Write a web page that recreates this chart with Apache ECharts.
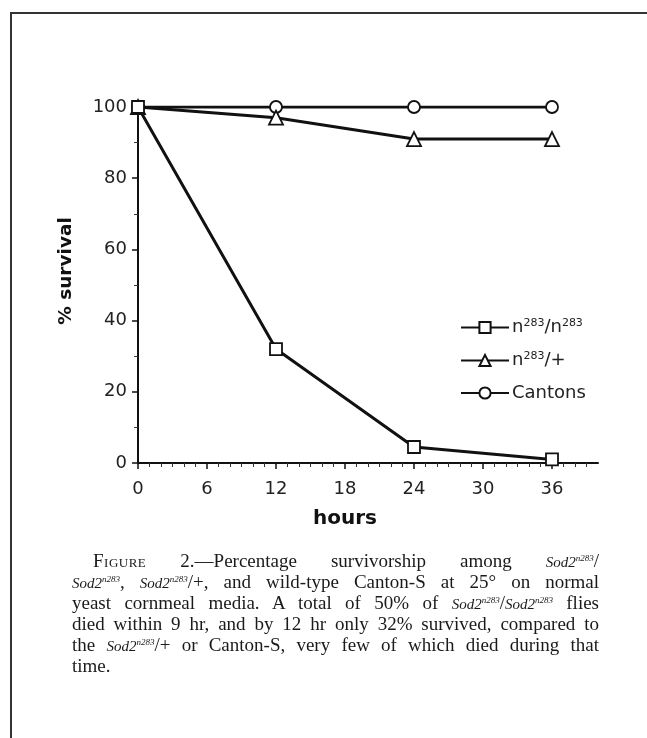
<!DOCTYPE html>
<html lang="en">
<head>
    <meta charset="UTF-8">
    <title>Survival</title>
    <script src="https://cdn.jsdelivr.net/npm/echarts@6/dist/echarts.min.js"></script>
    <style>
        html,body{margin:0;padding:0;width:647px;height:738px;background:#fff;overflow:hidden;}
        #frame{position:absolute;left:10px;top:12px;width:660px;height:760px;border-left:2px solid #333;border-top:2px solid #333;}
        #main{position:absolute;left:0;top:0;width:647px;height:738px;}
        #caption{position:absolute;left:72px;top:550px;width:527px;font-family:"Liberation Serif",serif;font-size:19px;line-height:21px;color:#1a1a1a;}
        #caption div{height:21px;text-align:justify;text-align-last:justify;white-space:nowrap;}
        #caption div.last{text-align-last:left;}
        #caption .sc{font-variant:small-caps;letter-spacing:0.5px;}
        #caption i{font-size:15px;}
        #caption sup{font-size:9px;line-height:0;}
    </style>
</head>
<body>
<div id="frame"></div>
<div id="main"></div>
<div id="caption">
    <div style="padding-left:21px"><span class="sc">Figure</span> 2.—Percentage survivorship among <i>Sod2<sup>n283</sup></i>/</div>
    <div><i>Sod2<sup>n283</sup></i>, <i>Sod2<sup>n283</sup></i>/+, and wild-type Canton-S at 25° on normal</div>
    <div>yeast cornmeal media. A total of 50% of <i>Sod2<sup>n283</sup></i>/<i>Sod2<sup>n283</sup></i> flies</div>
    <div>died within 9 hr, and by 12 hr only 32% survived, compared to</div>
    <div>the <i>Sod2<sup>n283</sup></i>/+ or Canton-S, very few of which died during that</div>
    <div class="last">time.</div>
</div>
<script>
    // data
    var hours = [0, 12, 24, 36];
    var homozygous = [100, 32, 4.5, 1];
    var heterozygous = [100, 97, 91, 91];
    var cantons = [100, 100, 100, 100];
    var xTicks = [0, 6, 12, 18, 24, 30, 36];
    var seriesNames = ['n283/n283', 'n283/+', 'Cantons'];

    function pairs(xs, ys){
        var out = [];
        for (var i = 0; i < xs.length; i++) {
            out.push([xs[i], ys[i]]);
        }
        return out;
    }

    function makeSeries(name, ys, symbol, z){
        return {
            name: name,
            type: 'line',
            data: pairs(hours, ys),
            symbol: symbol,
            symbolSize: symbol === 'triangle' ? 14 : 12,
            showAllSymbol: true,
            lineStyle: {color: '#111', width: 3},
            itemStyle: {color: '#fff', borderColor: '#111', borderWidth: 1.8},
            emphasis: {disabled: true},
            z: z
        };
    }

    var myChart = echarts.init(document.getElementById('main'));

    var axisFont = {fontFamily: 'DejaVu Sans', fontSize: 18, color: '#222'};

    var option = {
        animation: false,
        backgroundColor: 'transparent',
        grid: {left: 138, right: 49, top: 107, bottom: 275, containLabel: false},
        legend: {
            orient: 'vertical',
            left: 455,
            top: 313,
            itemWidth: 48,
            itemHeight: 14,
            itemGap: 14,
            data: seriesNames,
            formatter: function (name) {
                if (name === 'n283/n283') return '{t|n}{s|283}{t|/n}{s|283}';
                if (name === 'n283/+') return '{t|n}{s|283}{t|/+}';
                return '{t|' + name + '}';
            },
            textStyle: {
                padding: [0, 0, 0, -2],
                rich: {
                    t: {fontFamily: 'DejaVu Sans', fontSize: 18, color: '#222', lineHeight: 19},
                    s: {fontFamily: 'DejaVu Sans', fontSize: 11, color: '#222', verticalAlign: 'top', lineHeight: 19, padding: [0, 0, 8, 0]}
                }
            }
        },
        xAxis: {
            type: 'value',
            min: 0,
            max: 40,
            interval: 6,
            name: 'hours',
            nameLocation: 'middle',
            nameGap: 46,
            nameTextStyle: {fontFamily: 'DejaVu Sans', fontSize: 20, fontWeight: 'bold', color: '#111', padding: [0, 46, 0, 0]},
            axisLine: {show: true, onZero: false, lineStyle: {color: '#111', width: 2}},
            axisTick: {show: true, customValues: xTicks, length: 6, lineStyle: {color: '#111', width: 1.5}},
            minorTick: {show: true, splitNumber: 6, length: 4, lineStyle: {color: '#333', width: 1}},
            axisLabel: Object.assign({customValues: xTicks, margin: 17}, axisFont),
            splitLine: {show: false}
        },
        yAxis: {
            type: 'value',
            min: 0,
            max: 100,
            interval: 20,
            name: '% survival',
            nameLocation: 'middle',
            nameGap: 62,
            nameTextStyle: {fontFamily: 'DejaVu Sans', fontSize: 18.5, fontWeight: 'bold', color: '#111', padding: [0, 0, 0, 28]},
            axisLine: {show: true, lineStyle: {color: '#111', width: 2}},
            axisTick: {show: true, length: 6, lineStyle: {color: '#111', width: 1.5}},
            minorTick: {show: true, splitNumber: 2, length: 4, lineStyle: {color: '#333', width: 1}},
            axisLabel: Object.assign({margin: 11}, axisFont),
            splitLine: {show: false}
        },
        series: [
            makeSeries(seriesNames[0], homozygous, 'rect', 5),
            makeSeries(seriesNames[1], heterozygous, 'triangle', 4),
            makeSeries(seriesNames[2], cantons, 'circle', 3)
        ]
    };

    myChart.setOption(option);
</script>
</body>
</html>
